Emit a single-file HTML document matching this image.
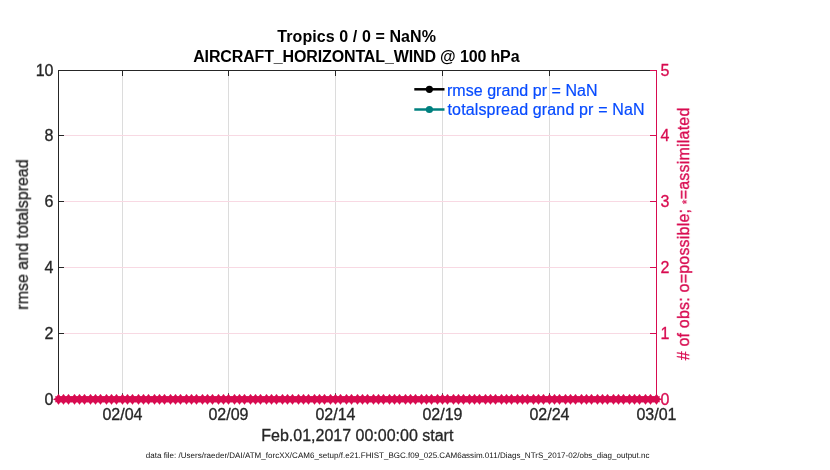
<!DOCTYPE html>
<html><head><meta charset="utf-8"><style>
html,body{margin:0;padding:0;background:#fff;width:830px;height:470px;overflow:hidden}
svg{display:block;font-family:"Liberation Sans",sans-serif}
text{will-change:transform}
</style></head><body>
<svg width="830" height="470" viewBox="0 0 830 470">
<rect width="830" height="470" fill="#fff"/>
<g stroke-width="1">
<line x1="122.5" y1="70" x2="122.5" y2="399" stroke="#dcdcdc"/><line x1="228.5" y1="70" x2="228.5" y2="399" stroke="#dcdcdc"/><line x1="335.5" y1="70" x2="335.5" y2="399" stroke="#dcdcdc"/><line x1="442.5" y1="70" x2="442.5" y2="399" stroke="#dcdcdc"/><line x1="549.5" y1="70" x2="549.5" y2="399" stroke="#dcdcdc"/>
<line x1="58" y1="135.5" x2="656" y2="135.5" stroke="#f8d9e3"/><line x1="58" y1="201.5" x2="656" y2="201.5" stroke="#f8d9e3"/><line x1="58" y1="267.5" x2="656" y2="267.5" stroke="#f8d9e3"/><line x1="58" y1="333.5" x2="656" y2="333.5" stroke="#f8d9e3"/>
</g>
<g font-weight="bold" font-size="16" fill="#000" text-anchor="middle">
<text x="356.6" y="42.4" textLength="158.8">Tropics 0 / 0 = NaN%</text>
<text x="356.35" y="61.8" textLength="326.4">AIRCRAFT_HORIZONTAL_WIND @ 100 hPa</text>
</g>
<g font-size="16" fill="#262626" stroke="#262626" stroke-width="0.3">
<text x="53.5" y="76.2" text-anchor="end">10</text><text x="53.5" y="141.2" text-anchor="end">8</text><text x="53.5" y="207.2" text-anchor="end">6</text><text x="53.5" y="273.2" text-anchor="end">4</text><text x="53.5" y="339.2" text-anchor="end">2</text><text x="53.5" y="405.2" text-anchor="end">0</text>
<text x="122.5" y="419.9" text-anchor="middle">02/04</text><text x="228.5" y="419.9" text-anchor="middle">02/09</text><text x="335.5" y="419.9" text-anchor="middle">02/14</text><text x="442.5" y="419.9" text-anchor="middle">02/19</text><text x="549.5" y="419.9" text-anchor="middle">02/24</text><text x="656.5" y="419.9" text-anchor="middle">03/01</text>
<text x="357.3" y="440.75" text-anchor="middle">Feb.01,2017 00:00:00 start</text>
<text transform="translate(27.9 234.5) rotate(-90)" text-anchor="middle">rmse and totalspread</text>
</g>
<g font-size="16" fill="#D80B50" stroke="#D80B50" stroke-width="0.3">
<text x="660.5" y="76.2">5</text><text x="660.5" y="141.2">4</text><text x="660.5" y="207.2">3</text><text x="660.5" y="273.2">2</text><text x="660.5" y="339.2">1</text><text x="660.5" y="405.2">0</text>
<text transform="translate(689.1 234) rotate(-90)" text-anchor="middle" textLength="252.7">#&#160;of obs: o=possible; <tspan font-size="12" dy="2.4" stroke-width="0.2">*</tspan><tspan dy="-2.4">=assimilated</tspan></text>
</g>
<g stroke-width="1">
<path d="M58.5 399 V70.5 H656.5" fill="none" stroke="#262626"/>
<line x1="122.5" y1="70" x2="122.5" y2="76" stroke="#262626"/><line x1="228.5" y1="70" x2="228.5" y2="76" stroke="#262626"/><line x1="335.5" y1="70" x2="335.5" y2="76" stroke="#262626"/><line x1="442.5" y1="70" x2="442.5" y2="76" stroke="#262626"/><line x1="549.5" y1="70" x2="549.5" y2="76" stroke="#262626"/>
<line x1="122.5" y1="399" x2="122.5" y2="393.3" stroke="#262626"/><line x1="228.5" y1="399" x2="228.5" y2="393.3" stroke="#262626"/><line x1="335.5" y1="399" x2="335.5" y2="393.3" stroke="#262626"/><line x1="442.5" y1="399" x2="442.5" y2="393.3" stroke="#262626"/><line x1="549.5" y1="399" x2="549.5" y2="393.3" stroke="#262626"/>
<line x1="58" y1="70.5" x2="64" y2="70.5" stroke="#262626"/><line x1="58" y1="135.5" x2="64" y2="135.5" stroke="#262626"/><line x1="58" y1="201.5" x2="64" y2="201.5" stroke="#262626"/><line x1="58" y1="267.5" x2="64" y2="267.5" stroke="#262626"/><line x1="58" y1="333.5" x2="64" y2="333.5" stroke="#262626"/><line x1="58" y1="399.5" x2="64" y2="399.5" stroke="#262626"/>
<line x1="656.5" y1="70" x2="656.5" y2="400" stroke="#D80B50"/>
<line x1="650" y1="70.5" x2="657" y2="70.5" stroke="#D80B50"/><line x1="650" y1="135.5" x2="657" y2="135.5" stroke="#D80B50"/><line x1="650" y1="201.5" x2="657" y2="201.5" stroke="#D80B50"/><line x1="650" y1="267.5" x2="657" y2="267.5" stroke="#D80B50"/><line x1="650" y1="333.5" x2="657" y2="333.5" stroke="#D80B50"/><line x1="650" y1="399.5" x2="657" y2="399.5" stroke="#D80B50"/>
</g>
<line x1="414.3" y1="89.3" x2="444.5" y2="89.3" stroke="#000" stroke-width="2.5"/>
<circle cx="429.4" cy="89.3" r="3.6" fill="#000"/>
<line x1="414.3" y1="109.5" x2="444.5" y2="109.5" stroke="#00807F" stroke-width="2.5"/>
<circle cx="429.4" cy="109.5" r="3.6" fill="#00807F"/>
<g font-size="16" fill="#074BFF" stroke="#074BFF" stroke-width="0.2">
<text x="447" y="95.5" textLength="150.5">rmse grand pr = NaN</text>
<text x="447.5" y="114.6" textLength="197.0">totalspread grand pr = NaN</text>
</g>
<rect x="58.5" y="396.3" width="598" height="6.0" fill="#D80B50"/>
<g fill="#D80B50"><path d="M58.85 394.15L60.20 396.30L61.85 396.30L61.50 398L63.60 398.95L63.60 399.65L61.50 400.60L61.85 402.30L60.20 402.30L58.85 404.45L58.15 404.45L56.80 402.30L55.15 402.30L55.50 400.60L53.40 399.65L53.40 398.95L55.50 398L55.15 396.30L56.80 396.30L58.15 394.15ZM63.85 394.15L65.20 396.30L66.85 396.30L66.50 398L68.60 398.95L68.60 399.65L66.50 400.60L66.85 402.30L65.20 402.30L63.85 404.45L63.15 404.45L61.80 402.30L60.15 402.30L60.50 400.60L58.40 399.65L58.40 398.95L60.50 398L60.15 396.30L61.80 396.30L63.15 394.15ZM68.85 394.15L70.20 396.30L71.85 396.30L71.50 398L73.60 398.95L73.60 399.65L71.50 400.60L71.85 402.30L70.20 402.30L68.85 404.45L68.15 404.45L66.80 402.30L65.15 402.30L65.50 400.60L63.40 399.65L63.40 398.95L65.50 398L65.15 396.30L66.80 396.30L68.15 394.15ZM74.85 394.15L76.20 396.30L77.85 396.30L77.50 398L79.60 398.95L79.60 399.65L77.50 400.60L77.85 402.30L76.20 402.30L74.85 404.45L74.15 404.45L72.80 402.30L71.15 402.30L71.50 400.60L69.40 399.65L69.40 398.95L71.50 398L71.15 396.30L72.80 396.30L74.15 394.15ZM79.85 394.15L81.20 396.30L82.85 396.30L82.50 398L84.60 398.95L84.60 399.65L82.50 400.60L82.85 402.30L81.20 402.30L79.85 404.45L79.15 404.45L77.80 402.30L76.15 402.30L76.50 400.60L74.40 399.65L74.40 398.95L76.50 398L76.15 396.30L77.80 396.30L79.15 394.15ZM84.85 394.15L86.20 396.30L87.85 396.30L87.50 398L89.60 398.95L89.60 399.65L87.50 400.60L87.85 402.30L86.20 402.30L84.85 404.45L84.15 404.45L82.80 402.30L81.15 402.30L81.50 400.60L79.40 399.65L79.40 398.95L81.50 398L81.15 396.30L82.80 396.30L84.15 394.15ZM90.85 394.15L92.20 396.30L93.85 396.30L93.50 398L95.60 398.95L95.60 399.65L93.50 400.60L93.85 402.30L92.20 402.30L90.85 404.45L90.15 404.45L88.80 402.30L87.15 402.30L87.50 400.60L85.40 399.65L85.40 398.95L87.50 398L87.15 396.30L88.80 396.30L90.15 394.15ZM95.85 394.15L97.20 396.30L98.85 396.30L98.50 398L100.60 398.95L100.60 399.65L98.50 400.60L98.85 402.30L97.20 402.30L95.85 404.45L95.15 404.45L93.80 402.30L92.15 402.30L92.50 400.60L90.40 399.65L90.40 398.95L92.50 398L92.15 396.30L93.80 396.30L95.15 394.15ZM100.85 394.15L102.20 396.30L103.85 396.30L103.50 398L105.60 398.95L105.60 399.65L103.50 400.60L103.85 402.30L102.20 402.30L100.85 404.45L100.15 404.45L98.80 402.30L97.15 402.30L97.50 400.60L95.40 399.65L95.40 398.95L97.50 398L97.15 396.30L98.80 396.30L100.15 394.15ZM106.85 394.15L108.20 396.30L109.85 396.30L109.50 398L111.60 398.95L111.60 399.65L109.50 400.60L109.85 402.30L108.20 402.30L106.85 404.45L106.15 404.45L104.80 402.30L103.15 402.30L103.50 400.60L101.40 399.65L101.40 398.95L103.50 398L103.15 396.30L104.80 396.30L106.15 394.15ZM111.85 394.15L113.20 396.30L114.85 396.30L114.50 398L116.60 398.95L116.60 399.65L114.50 400.60L114.85 402.30L113.20 402.30L111.85 404.45L111.15 404.45L109.80 402.30L108.15 402.30L108.50 400.60L106.40 399.65L106.40 398.95L108.50 398L108.15 396.30L109.80 396.30L111.15 394.15ZM116.85 394.15L118.20 396.30L119.85 396.30L119.50 398L121.60 398.95L121.60 399.65L119.50 400.60L119.85 402.30L118.20 402.30L116.85 404.45L116.15 404.45L114.80 402.30L113.15 402.30L113.50 400.60L111.40 399.65L111.40 398.95L113.50 398L113.15 396.30L114.80 396.30L116.15 394.15ZM122.85 394.15L124.20 396.30L125.85 396.30L125.50 398L127.60 398.95L127.60 399.65L125.50 400.60L125.85 402.30L124.20 402.30L122.85 404.45L122.15 404.45L120.80 402.30L119.15 402.30L119.50 400.60L117.40 399.65L117.40 398.95L119.50 398L119.15 396.30L120.80 396.30L122.15 394.15ZM127.85 394.15L129.20 396.30L130.85 396.30L130.50 398L132.60 398.95L132.60 399.65L130.50 400.60L130.85 402.30L129.20 402.30L127.85 404.45L127.15 404.45L125.80 402.30L124.15 402.30L124.50 400.60L122.40 399.65L122.40 398.95L124.50 398L124.15 396.30L125.80 396.30L127.15 394.15ZM132.85 394.15L134.20 396.30L135.85 396.30L135.50 398L137.60 398.95L137.60 399.65L135.50 400.60L135.85 402.30L134.20 402.30L132.85 404.45L132.15 404.45L130.80 402.30L129.15 402.30L129.50 400.60L127.40 399.65L127.40 398.95L129.50 398L129.15 396.30L130.80 396.30L132.15 394.15ZM138.85 394.15L140.20 396.30L141.85 396.30L141.50 398L143.60 398.95L143.60 399.65L141.50 400.60L141.85 402.30L140.20 402.30L138.85 404.45L138.15 404.45L136.80 402.30L135.15 402.30L135.50 400.60L133.40 399.65L133.40 398.95L135.50 398L135.15 396.30L136.80 396.30L138.15 394.15ZM143.85 394.15L145.20 396.30L146.85 396.30L146.50 398L148.60 398.95L148.60 399.65L146.50 400.60L146.85 402.30L145.20 402.30L143.85 404.45L143.15 404.45L141.80 402.30L140.15 402.30L140.50 400.60L138.40 399.65L138.40 398.95L140.50 398L140.15 396.30L141.80 396.30L143.15 394.15ZM148.85 394.15L150.20 396.30L151.85 396.30L151.50 398L153.60 398.95L153.60 399.65L151.50 400.60L151.85 402.30L150.20 402.30L148.85 404.45L148.15 404.45L146.80 402.30L145.15 402.30L145.50 400.60L143.40 399.65L143.40 398.95L145.50 398L145.15 396.30L146.80 396.30L148.15 394.15ZM154.85 394.15L156.20 396.30L157.85 396.30L157.50 398L159.60 398.95L159.60 399.65L157.50 400.60L157.85 402.30L156.20 402.30L154.85 404.45L154.15 404.45L152.80 402.30L151.15 402.30L151.50 400.60L149.40 399.65L149.40 398.95L151.50 398L151.15 396.30L152.80 396.30L154.15 394.15ZM159.85 394.15L161.20 396.30L162.85 396.30L162.50 398L164.60 398.95L164.60 399.65L162.50 400.60L162.85 402.30L161.20 402.30L159.85 404.45L159.15 404.45L157.80 402.30L156.15 402.30L156.50 400.60L154.40 399.65L154.40 398.95L156.50 398L156.15 396.30L157.80 396.30L159.15 394.15ZM164.85 394.15L166.20 396.30L167.85 396.30L167.50 398L169.60 398.95L169.60 399.65L167.50 400.60L167.85 402.30L166.20 402.30L164.85 404.45L164.15 404.45L162.80 402.30L161.15 402.30L161.50 400.60L159.40 399.65L159.40 398.95L161.50 398L161.15 396.30L162.80 396.30L164.15 394.15ZM170.85 394.15L172.20 396.30L173.85 396.30L173.50 398L175.60 398.95L175.60 399.65L173.50 400.60L173.85 402.30L172.20 402.30L170.85 404.45L170.15 404.45L168.80 402.30L167.15 402.30L167.50 400.60L165.40 399.65L165.40 398.95L167.50 398L167.15 396.30L168.80 396.30L170.15 394.15ZM175.85 394.15L177.20 396.30L178.85 396.30L178.50 398L180.60 398.95L180.60 399.65L178.50 400.60L178.85 402.30L177.20 402.30L175.85 404.45L175.15 404.45L173.80 402.30L172.15 402.30L172.50 400.60L170.40 399.65L170.40 398.95L172.50 398L172.15 396.30L173.80 396.30L175.15 394.15ZM180.85 394.15L182.20 396.30L183.85 396.30L183.50 398L185.60 398.95L185.60 399.65L183.50 400.60L183.85 402.30L182.20 402.30L180.85 404.45L180.15 404.45L178.80 402.30L177.15 402.30L177.50 400.60L175.40 399.65L175.40 398.95L177.50 398L177.15 396.30L178.80 396.30L180.15 394.15ZM186.85 394.15L188.20 396.30L189.85 396.30L189.50 398L191.60 398.95L191.60 399.65L189.50 400.60L189.85 402.30L188.20 402.30L186.85 404.45L186.15 404.45L184.80 402.30L183.15 402.30L183.50 400.60L181.40 399.65L181.40 398.95L183.50 398L183.15 396.30L184.80 396.30L186.15 394.15ZM191.85 394.15L193.20 396.30L194.85 396.30L194.50 398L196.60 398.95L196.60 399.65L194.50 400.60L194.85 402.30L193.20 402.30L191.85 404.45L191.15 404.45L189.80 402.30L188.15 402.30L188.50 400.60L186.40 399.65L186.40 398.95L188.50 398L188.15 396.30L189.80 396.30L191.15 394.15ZM196.85 394.15L198.20 396.30L199.85 396.30L199.50 398L201.60 398.95L201.60 399.65L199.50 400.60L199.85 402.30L198.20 402.30L196.85 404.45L196.15 404.45L194.80 402.30L193.15 402.30L193.50 400.60L191.40 399.65L191.40 398.95L193.50 398L193.15 396.30L194.80 396.30L196.15 394.15ZM202.85 394.15L204.20 396.30L205.85 396.30L205.50 398L207.60 398.95L207.60 399.65L205.50 400.60L205.85 402.30L204.20 402.30L202.85 404.45L202.15 404.45L200.80 402.30L199.15 402.30L199.50 400.60L197.40 399.65L197.40 398.95L199.50 398L199.15 396.30L200.80 396.30L202.15 394.15ZM207.85 394.15L209.20 396.30L210.85 396.30L210.50 398L212.60 398.95L212.60 399.65L210.50 400.60L210.85 402.30L209.20 402.30L207.85 404.45L207.15 404.45L205.80 402.30L204.15 402.30L204.50 400.60L202.40 399.65L202.40 398.95L204.50 398L204.15 396.30L205.80 396.30L207.15 394.15ZM212.85 394.15L214.20 396.30L215.85 396.30L215.50 398L217.60 398.95L217.60 399.65L215.50 400.60L215.85 402.30L214.20 402.30L212.85 404.45L212.15 404.45L210.80 402.30L209.15 402.30L209.50 400.60L207.40 399.65L207.40 398.95L209.50 398L209.15 396.30L210.80 396.30L212.15 394.15ZM218.85 394.15L220.20 396.30L221.85 396.30L221.50 398L223.60 398.95L223.60 399.65L221.50 400.60L221.85 402.30L220.20 402.30L218.85 404.45L218.15 404.45L216.80 402.30L215.15 402.30L215.50 400.60L213.40 399.65L213.40 398.95L215.50 398L215.15 396.30L216.80 396.30L218.15 394.15ZM223.85 394.15L225.20 396.30L226.85 396.30L226.50 398L228.60 398.95L228.60 399.65L226.50 400.60L226.85 402.30L225.20 402.30L223.85 404.45L223.15 404.45L221.80 402.30L220.15 402.30L220.50 400.60L218.40 399.65L218.40 398.95L220.50 398L220.15 396.30L221.80 396.30L223.15 394.15ZM228.85 394.15L230.20 396.30L231.85 396.30L231.50 398L233.60 398.95L233.60 399.65L231.50 400.60L231.85 402.30L230.20 402.30L228.85 404.45L228.15 404.45L226.80 402.30L225.15 402.30L225.50 400.60L223.40 399.65L223.40 398.95L225.50 398L225.15 396.30L226.80 396.30L228.15 394.15ZM234.85 394.15L236.20 396.30L237.85 396.30L237.50 398L239.60 398.95L239.60 399.65L237.50 400.60L237.85 402.30L236.20 402.30L234.85 404.45L234.15 404.45L232.80 402.30L231.15 402.30L231.50 400.60L229.40 399.65L229.40 398.95L231.50 398L231.15 396.30L232.80 396.30L234.15 394.15ZM239.85 394.15L241.20 396.30L242.85 396.30L242.50 398L244.60 398.95L244.60 399.65L242.50 400.60L242.85 402.30L241.20 402.30L239.85 404.45L239.15 404.45L237.80 402.30L236.15 402.30L236.50 400.60L234.40 399.65L234.40 398.95L236.50 398L236.15 396.30L237.80 396.30L239.15 394.15ZM244.85 394.15L246.20 396.30L247.85 396.30L247.50 398L249.60 398.95L249.60 399.65L247.50 400.60L247.85 402.30L246.20 402.30L244.85 404.45L244.15 404.45L242.80 402.30L241.15 402.30L241.50 400.60L239.40 399.65L239.40 398.95L241.50 398L241.15 396.30L242.80 396.30L244.15 394.15ZM250.85 394.15L252.20 396.30L253.85 396.30L253.50 398L255.60 398.95L255.60 399.65L253.50 400.60L253.85 402.30L252.20 402.30L250.85 404.45L250.15 404.45L248.80 402.30L247.15 402.30L247.50 400.60L245.40 399.65L245.40 398.95L247.50 398L247.15 396.30L248.80 396.30L250.15 394.15ZM255.85 394.15L257.20 396.30L258.85 396.30L258.50 398L260.60 398.95L260.60 399.65L258.50 400.60L258.85 402.30L257.20 402.30L255.85 404.45L255.15 404.45L253.80 402.30L252.15 402.30L252.50 400.60L250.40 399.65L250.40 398.95L252.50 398L252.15 396.30L253.80 396.30L255.15 394.15ZM260.85 394.15L262.20 396.30L263.85 396.30L263.50 398L265.60 398.95L265.60 399.65L263.50 400.60L263.85 402.30L262.20 402.30L260.85 404.45L260.15 404.45L258.80 402.30L257.15 402.30L257.50 400.60L255.40 399.65L255.40 398.95L257.50 398L257.15 396.30L258.80 396.30L260.15 394.15ZM266.85 394.15L268.20 396.30L269.85 396.30L269.50 398L271.60 398.95L271.60 399.65L269.50 400.60L269.85 402.30L268.20 402.30L266.85 404.45L266.15 404.45L264.80 402.30L263.15 402.30L263.50 400.60L261.40 399.65L261.40 398.95L263.50 398L263.15 396.30L264.80 396.30L266.15 394.15ZM271.85 394.15L273.20 396.30L274.85 396.30L274.50 398L276.60 398.95L276.60 399.65L274.50 400.60L274.85 402.30L273.20 402.30L271.85 404.45L271.15 404.45L269.80 402.30L268.15 402.30L268.50 400.60L266.40 399.65L266.40 398.95L268.50 398L268.15 396.30L269.80 396.30L271.15 394.15ZM276.85 394.15L278.20 396.30L279.85 396.30L279.50 398L281.60 398.95L281.60 399.65L279.50 400.60L279.85 402.30L278.20 402.30L276.85 404.45L276.15 404.45L274.80 402.30L273.15 402.30L273.50 400.60L271.40 399.65L271.40 398.95L273.50 398L273.15 396.30L274.80 396.30L276.15 394.15ZM282.85 394.15L284.20 396.30L285.85 396.30L285.50 398L287.60 398.95L287.60 399.65L285.50 400.60L285.85 402.30L284.20 402.30L282.85 404.45L282.15 404.45L280.80 402.30L279.15 402.30L279.50 400.60L277.40 399.65L277.40 398.95L279.50 398L279.15 396.30L280.80 396.30L282.15 394.15ZM287.85 394.15L289.20 396.30L290.85 396.30L290.50 398L292.60 398.95L292.60 399.65L290.50 400.60L290.85 402.30L289.20 402.30L287.85 404.45L287.15 404.45L285.80 402.30L284.15 402.30L284.50 400.60L282.40 399.65L282.40 398.95L284.50 398L284.15 396.30L285.80 396.30L287.15 394.15ZM292.85 394.15L294.20 396.30L295.85 396.30L295.50 398L297.60 398.95L297.60 399.65L295.50 400.60L295.85 402.30L294.20 402.30L292.85 404.45L292.15 404.45L290.80 402.30L289.15 402.30L289.50 400.60L287.40 399.65L287.40 398.95L289.50 398L289.15 396.30L290.80 396.30L292.15 394.15ZM298.85 394.15L300.20 396.30L301.85 396.30L301.50 398L303.60 398.95L303.60 399.65L301.50 400.60L301.85 402.30L300.20 402.30L298.85 404.45L298.15 404.45L296.80 402.30L295.15 402.30L295.50 400.60L293.40 399.65L293.40 398.95L295.50 398L295.15 396.30L296.80 396.30L298.15 394.15ZM303.85 394.15L305.20 396.30L306.85 396.30L306.50 398L308.60 398.95L308.60 399.65L306.50 400.60L306.85 402.30L305.20 402.30L303.85 404.45L303.15 404.45L301.80 402.30L300.15 402.30L300.50 400.60L298.40 399.65L298.40 398.95L300.50 398L300.15 396.30L301.80 396.30L303.15 394.15ZM308.85 394.15L310.20 396.30L311.85 396.30L311.50 398L313.60 398.95L313.60 399.65L311.50 400.60L311.85 402.30L310.20 402.30L308.85 404.45L308.15 404.45L306.80 402.30L305.15 402.30L305.50 400.60L303.40 399.65L303.40 398.95L305.50 398L305.15 396.30L306.80 396.30L308.15 394.15ZM314.85 394.15L316.20 396.30L317.85 396.30L317.50 398L319.60 398.95L319.60 399.65L317.50 400.60L317.85 402.30L316.20 402.30L314.85 404.45L314.15 404.45L312.80 402.30L311.15 402.30L311.50 400.60L309.40 399.65L309.40 398.95L311.50 398L311.15 396.30L312.80 396.30L314.15 394.15ZM319.85 394.15L321.20 396.30L322.85 396.30L322.50 398L324.60 398.95L324.60 399.65L322.50 400.60L322.85 402.30L321.20 402.30L319.85 404.45L319.15 404.45L317.80 402.30L316.15 402.30L316.50 400.60L314.40 399.65L314.40 398.95L316.50 398L316.15 396.30L317.80 396.30L319.15 394.15ZM324.85 394.15L326.20 396.30L327.85 396.30L327.50 398L329.60 398.95L329.60 399.65L327.50 400.60L327.85 402.30L326.20 402.30L324.85 404.45L324.15 404.45L322.80 402.30L321.15 402.30L321.50 400.60L319.40 399.65L319.40 398.95L321.50 398L321.15 396.30L322.80 396.30L324.15 394.15ZM330.85 394.15L332.20 396.30L333.85 396.30L333.50 398L335.60 398.95L335.60 399.65L333.50 400.60L333.85 402.30L332.20 402.30L330.85 404.45L330.15 404.45L328.80 402.30L327.15 402.30L327.50 400.60L325.40 399.65L325.40 398.95L327.50 398L327.15 396.30L328.80 396.30L330.15 394.15ZM335.85 394.15L337.20 396.30L338.85 396.30L338.50 398L340.60 398.95L340.60 399.65L338.50 400.60L338.85 402.30L337.20 402.30L335.85 404.45L335.15 404.45L333.80 402.30L332.15 402.30L332.50 400.60L330.40 399.65L330.40 398.95L332.50 398L332.15 396.30L333.80 396.30L335.15 394.15ZM340.85 394.15L342.20 396.30L343.85 396.30L343.50 398L345.60 398.95L345.60 399.65L343.50 400.60L343.85 402.30L342.20 402.30L340.85 404.45L340.15 404.45L338.80 402.30L337.15 402.30L337.50 400.60L335.40 399.65L335.40 398.95L337.50 398L337.15 396.30L338.80 396.30L340.15 394.15ZM346.85 394.15L348.20 396.30L349.85 396.30L349.50 398L351.60 398.95L351.60 399.65L349.50 400.60L349.85 402.30L348.20 402.30L346.85 404.45L346.15 404.45L344.80 402.30L343.15 402.30L343.50 400.60L341.40 399.65L341.40 398.95L343.50 398L343.15 396.30L344.80 396.30L346.15 394.15ZM351.85 394.15L353.20 396.30L354.85 396.30L354.50 398L356.60 398.95L356.60 399.65L354.50 400.60L354.85 402.30L353.20 402.30L351.85 404.45L351.15 404.45L349.80 402.30L348.15 402.30L348.50 400.60L346.40 399.65L346.40 398.95L348.50 398L348.15 396.30L349.80 396.30L351.15 394.15ZM357.85 394.15L359.20 396.30L360.85 396.30L360.50 398L362.60 398.95L362.60 399.65L360.50 400.60L360.85 402.30L359.20 402.30L357.85 404.45L357.15 404.45L355.80 402.30L354.15 402.30L354.50 400.60L352.40 399.65L352.40 398.95L354.50 398L354.15 396.30L355.80 396.30L357.15 394.15ZM362.85 394.15L364.20 396.30L365.85 396.30L365.50 398L367.60 398.95L367.60 399.65L365.50 400.60L365.85 402.30L364.20 402.30L362.85 404.45L362.15 404.45L360.80 402.30L359.15 402.30L359.50 400.60L357.40 399.65L357.40 398.95L359.50 398L359.15 396.30L360.80 396.30L362.15 394.15ZM367.85 394.15L369.20 396.30L370.85 396.30L370.50 398L372.60 398.95L372.60 399.65L370.50 400.60L370.85 402.30L369.20 402.30L367.85 404.45L367.15 404.45L365.80 402.30L364.15 402.30L364.50 400.60L362.40 399.65L362.40 398.95L364.50 398L364.15 396.30L365.80 396.30L367.15 394.15ZM373.85 394.15L375.20 396.30L376.85 396.30L376.50 398L378.60 398.95L378.60 399.65L376.50 400.60L376.85 402.30L375.20 402.30L373.85 404.45L373.15 404.45L371.80 402.30L370.15 402.30L370.50 400.60L368.40 399.65L368.40 398.95L370.50 398L370.15 396.30L371.80 396.30L373.15 394.15ZM378.85 394.15L380.20 396.30L381.85 396.30L381.50 398L383.60 398.95L383.60 399.65L381.50 400.60L381.85 402.30L380.20 402.30L378.85 404.45L378.15 404.45L376.80 402.30L375.15 402.30L375.50 400.60L373.40 399.65L373.40 398.95L375.50 398L375.15 396.30L376.80 396.30L378.15 394.15ZM383.85 394.15L385.20 396.30L386.85 396.30L386.50 398L388.60 398.95L388.60 399.65L386.50 400.60L386.85 402.30L385.20 402.30L383.85 404.45L383.15 404.45L381.80 402.30L380.15 402.30L380.50 400.60L378.40 399.65L378.40 398.95L380.50 398L380.15 396.30L381.80 396.30L383.15 394.15ZM389.85 394.15L391.20 396.30L392.85 396.30L392.50 398L394.60 398.95L394.60 399.65L392.50 400.60L392.85 402.30L391.20 402.30L389.85 404.45L389.15 404.45L387.80 402.30L386.15 402.30L386.50 400.60L384.40 399.65L384.40 398.95L386.50 398L386.15 396.30L387.80 396.30L389.15 394.15ZM394.85 394.15L396.20 396.30L397.85 396.30L397.50 398L399.60 398.95L399.60 399.65L397.50 400.60L397.85 402.30L396.20 402.30L394.85 404.45L394.15 404.45L392.80 402.30L391.15 402.30L391.50 400.60L389.40 399.65L389.40 398.95L391.50 398L391.15 396.30L392.80 396.30L394.15 394.15ZM399.85 394.15L401.20 396.30L402.85 396.30L402.50 398L404.60 398.95L404.60 399.65L402.50 400.60L402.85 402.30L401.20 402.30L399.85 404.45L399.15 404.45L397.80 402.30L396.15 402.30L396.50 400.60L394.40 399.65L394.40 398.95L396.50 398L396.15 396.30L397.80 396.30L399.15 394.15ZM405.85 394.15L407.20 396.30L408.85 396.30L408.50 398L410.60 398.95L410.60 399.65L408.50 400.60L408.85 402.30L407.20 402.30L405.85 404.45L405.15 404.45L403.80 402.30L402.15 402.30L402.50 400.60L400.40 399.65L400.40 398.95L402.50 398L402.15 396.30L403.80 396.30L405.15 394.15ZM410.85 394.15L412.20 396.30L413.85 396.30L413.50 398L415.60 398.95L415.60 399.65L413.50 400.60L413.85 402.30L412.20 402.30L410.85 404.45L410.15 404.45L408.80 402.30L407.15 402.30L407.50 400.60L405.40 399.65L405.40 398.95L407.50 398L407.15 396.30L408.80 396.30L410.15 394.15ZM415.85 394.15L417.20 396.30L418.85 396.30L418.50 398L420.60 398.95L420.60 399.65L418.50 400.60L418.85 402.30L417.20 402.30L415.85 404.45L415.15 404.45L413.80 402.30L412.15 402.30L412.50 400.60L410.40 399.65L410.40 398.95L412.50 398L412.15 396.30L413.80 396.30L415.15 394.15ZM421.85 394.15L423.20 396.30L424.85 396.30L424.50 398L426.60 398.95L426.60 399.65L424.50 400.60L424.85 402.30L423.20 402.30L421.85 404.45L421.15 404.45L419.80 402.30L418.15 402.30L418.50 400.60L416.40 399.65L416.40 398.95L418.50 398L418.15 396.30L419.80 396.30L421.15 394.15ZM426.85 394.15L428.20 396.30L429.85 396.30L429.50 398L431.60 398.95L431.60 399.65L429.50 400.60L429.85 402.30L428.20 402.30L426.85 404.45L426.15 404.45L424.80 402.30L423.15 402.30L423.50 400.60L421.40 399.65L421.40 398.95L423.50 398L423.15 396.30L424.80 396.30L426.15 394.15ZM431.85 394.15L433.20 396.30L434.85 396.30L434.50 398L436.60 398.95L436.60 399.65L434.50 400.60L434.85 402.30L433.20 402.30L431.85 404.45L431.15 404.45L429.80 402.30L428.15 402.30L428.50 400.60L426.40 399.65L426.40 398.95L428.50 398L428.15 396.30L429.80 396.30L431.15 394.15ZM437.85 394.15L439.20 396.30L440.85 396.30L440.50 398L442.60 398.95L442.60 399.65L440.50 400.60L440.85 402.30L439.20 402.30L437.85 404.45L437.15 404.45L435.80 402.30L434.15 402.30L434.50 400.60L432.40 399.65L432.40 398.95L434.50 398L434.15 396.30L435.80 396.30L437.15 394.15ZM442.85 394.15L444.20 396.30L445.85 396.30L445.50 398L447.60 398.95L447.60 399.65L445.50 400.60L445.85 402.30L444.20 402.30L442.85 404.45L442.15 404.45L440.80 402.30L439.15 402.30L439.50 400.60L437.40 399.65L437.40 398.95L439.50 398L439.15 396.30L440.80 396.30L442.15 394.15ZM447.85 394.15L449.20 396.30L450.85 396.30L450.50 398L452.60 398.95L452.60 399.65L450.50 400.60L450.85 402.30L449.20 402.30L447.85 404.45L447.15 404.45L445.80 402.30L444.15 402.30L444.50 400.60L442.40 399.65L442.40 398.95L444.50 398L444.15 396.30L445.80 396.30L447.15 394.15ZM453.85 394.15L455.20 396.30L456.85 396.30L456.50 398L458.60 398.95L458.60 399.65L456.50 400.60L456.85 402.30L455.20 402.30L453.85 404.45L453.15 404.45L451.80 402.30L450.15 402.30L450.50 400.60L448.40 399.65L448.40 398.95L450.50 398L450.15 396.30L451.80 396.30L453.15 394.15ZM458.85 394.15L460.20 396.30L461.85 396.30L461.50 398L463.60 398.95L463.60 399.65L461.50 400.60L461.85 402.30L460.20 402.30L458.85 404.45L458.15 404.45L456.80 402.30L455.15 402.30L455.50 400.60L453.40 399.65L453.40 398.95L455.50 398L455.15 396.30L456.80 396.30L458.15 394.15ZM463.85 394.15L465.20 396.30L466.85 396.30L466.50 398L468.60 398.95L468.60 399.65L466.50 400.60L466.85 402.30L465.20 402.30L463.85 404.45L463.15 404.45L461.80 402.30L460.15 402.30L460.50 400.60L458.40 399.65L458.40 398.95L460.50 398L460.15 396.30L461.80 396.30L463.15 394.15ZM469.85 394.15L471.20 396.30L472.85 396.30L472.50 398L474.60 398.95L474.60 399.65L472.50 400.60L472.85 402.30L471.20 402.30L469.85 404.45L469.15 404.45L467.80 402.30L466.15 402.30L466.50 400.60L464.40 399.65L464.40 398.95L466.50 398L466.15 396.30L467.80 396.30L469.15 394.15ZM474.85 394.15L476.20 396.30L477.85 396.30L477.50 398L479.60 398.95L479.60 399.65L477.50 400.60L477.85 402.30L476.20 402.30L474.85 404.45L474.15 404.45L472.80 402.30L471.15 402.30L471.50 400.60L469.40 399.65L469.40 398.95L471.50 398L471.15 396.30L472.80 396.30L474.15 394.15ZM479.85 394.15L481.20 396.30L482.85 396.30L482.50 398L484.60 398.95L484.60 399.65L482.50 400.60L482.85 402.30L481.20 402.30L479.85 404.45L479.15 404.45L477.80 402.30L476.15 402.30L476.50 400.60L474.40 399.65L474.40 398.95L476.50 398L476.15 396.30L477.80 396.30L479.15 394.15ZM485.85 394.15L487.20 396.30L488.85 396.30L488.50 398L490.60 398.95L490.60 399.65L488.50 400.60L488.85 402.30L487.20 402.30L485.85 404.45L485.15 404.45L483.80 402.30L482.15 402.30L482.50 400.60L480.40 399.65L480.40 398.95L482.50 398L482.15 396.30L483.80 396.30L485.15 394.15ZM490.85 394.15L492.20 396.30L493.85 396.30L493.50 398L495.60 398.95L495.60 399.65L493.50 400.60L493.85 402.30L492.20 402.30L490.85 404.45L490.15 404.45L488.80 402.30L487.15 402.30L487.50 400.60L485.40 399.65L485.40 398.95L487.50 398L487.15 396.30L488.80 396.30L490.15 394.15ZM495.85 394.15L497.20 396.30L498.85 396.30L498.50 398L500.60 398.95L500.60 399.65L498.50 400.60L498.85 402.30L497.20 402.30L495.85 404.45L495.15 404.45L493.80 402.30L492.15 402.30L492.50 400.60L490.40 399.65L490.40 398.95L492.50 398L492.15 396.30L493.80 396.30L495.15 394.15ZM501.85 394.15L503.20 396.30L504.85 396.30L504.50 398L506.60 398.95L506.60 399.65L504.50 400.60L504.85 402.30L503.20 402.30L501.85 404.45L501.15 404.45L499.80 402.30L498.15 402.30L498.50 400.60L496.40 399.65L496.40 398.95L498.50 398L498.15 396.30L499.80 396.30L501.15 394.15ZM506.85 394.15L508.20 396.30L509.85 396.30L509.50 398L511.60 398.95L511.60 399.65L509.50 400.60L509.85 402.30L508.20 402.30L506.85 404.45L506.15 404.45L504.80 402.30L503.15 402.30L503.50 400.60L501.40 399.65L501.40 398.95L503.50 398L503.15 396.30L504.80 396.30L506.15 394.15ZM511.85 394.15L513.20 396.30L514.85 396.30L514.50 398L516.60 398.95L516.60 399.65L514.50 400.60L514.85 402.30L513.20 402.30L511.85 404.45L511.15 404.45L509.80 402.30L508.15 402.30L508.50 400.60L506.40 399.65L506.40 398.95L508.50 398L508.15 396.30L509.80 396.30L511.15 394.15ZM517.85 394.15L519.20 396.30L520.85 396.30L520.50 398L522.60 398.95L522.60 399.65L520.50 400.60L520.85 402.30L519.20 402.30L517.85 404.45L517.15 404.45L515.80 402.30L514.15 402.30L514.50 400.60L512.40 399.65L512.40 398.95L514.50 398L514.15 396.30L515.80 396.30L517.15 394.15ZM522.85 394.15L524.20 396.30L525.85 396.30L525.50 398L527.60 398.95L527.60 399.65L525.50 400.60L525.85 402.30L524.20 402.30L522.85 404.45L522.15 404.45L520.80 402.30L519.15 402.30L519.50 400.60L517.40 399.65L517.40 398.95L519.50 398L519.15 396.30L520.80 396.30L522.15 394.15ZM527.85 394.15L529.20 396.30L530.85 396.30L530.50 398L532.60 398.95L532.60 399.65L530.50 400.60L530.85 402.30L529.20 402.30L527.85 404.45L527.15 404.45L525.80 402.30L524.15 402.30L524.50 400.60L522.40 399.65L522.40 398.95L524.50 398L524.15 396.30L525.80 396.30L527.15 394.15ZM533.85 394.15L535.20 396.30L536.85 396.30L536.50 398L538.60 398.95L538.60 399.65L536.50 400.60L536.85 402.30L535.20 402.30L533.85 404.45L533.15 404.45L531.80 402.30L530.15 402.30L530.50 400.60L528.40 399.65L528.40 398.95L530.50 398L530.15 396.30L531.80 396.30L533.15 394.15ZM538.85 394.15L540.20 396.30L541.85 396.30L541.50 398L543.60 398.95L543.60 399.65L541.50 400.60L541.85 402.30L540.20 402.30L538.85 404.45L538.15 404.45L536.80 402.30L535.15 402.30L535.50 400.60L533.40 399.65L533.40 398.95L535.50 398L535.15 396.30L536.80 396.30L538.15 394.15ZM543.85 394.15L545.20 396.30L546.85 396.30L546.50 398L548.60 398.95L548.60 399.65L546.50 400.60L546.85 402.30L545.20 402.30L543.85 404.45L543.15 404.45L541.80 402.30L540.15 402.30L540.50 400.60L538.40 399.65L538.40 398.95L540.50 398L540.15 396.30L541.80 396.30L543.15 394.15ZM549.85 394.15L551.20 396.30L552.85 396.30L552.50 398L554.60 398.95L554.60 399.65L552.50 400.60L552.85 402.30L551.20 402.30L549.85 404.45L549.15 404.45L547.80 402.30L546.15 402.30L546.50 400.60L544.40 399.65L544.40 398.95L546.50 398L546.15 396.30L547.80 396.30L549.15 394.15ZM554.85 394.15L556.20 396.30L557.85 396.30L557.50 398L559.60 398.95L559.60 399.65L557.50 400.60L557.85 402.30L556.20 402.30L554.85 404.45L554.15 404.45L552.80 402.30L551.15 402.30L551.50 400.60L549.40 399.65L549.40 398.95L551.50 398L551.15 396.30L552.80 396.30L554.15 394.15ZM559.85 394.15L561.20 396.30L562.85 396.30L562.50 398L564.60 398.95L564.60 399.65L562.50 400.60L562.85 402.30L561.20 402.30L559.85 404.45L559.15 404.45L557.80 402.30L556.15 402.30L556.50 400.60L554.40 399.65L554.40 398.95L556.50 398L556.15 396.30L557.80 396.30L559.15 394.15ZM565.85 394.15L567.20 396.30L568.85 396.30L568.50 398L570.60 398.95L570.60 399.65L568.50 400.60L568.85 402.30L567.20 402.30L565.85 404.45L565.15 404.45L563.80 402.30L562.15 402.30L562.50 400.60L560.40 399.65L560.40 398.95L562.50 398L562.15 396.30L563.80 396.30L565.15 394.15ZM570.85 394.15L572.20 396.30L573.85 396.30L573.50 398L575.60 398.95L575.60 399.65L573.50 400.60L573.85 402.30L572.20 402.30L570.85 404.45L570.15 404.45L568.80 402.30L567.15 402.30L567.50 400.60L565.40 399.65L565.40 398.95L567.50 398L567.15 396.30L568.80 396.30L570.15 394.15ZM575.85 394.15L577.20 396.30L578.85 396.30L578.50 398L580.60 398.95L580.60 399.65L578.50 400.60L578.85 402.30L577.20 402.30L575.85 404.45L575.15 404.45L573.80 402.30L572.15 402.30L572.50 400.60L570.40 399.65L570.40 398.95L572.50 398L572.15 396.30L573.80 396.30L575.15 394.15ZM581.85 394.15L583.20 396.30L584.85 396.30L584.50 398L586.60 398.95L586.60 399.65L584.50 400.60L584.85 402.30L583.20 402.30L581.85 404.45L581.15 404.45L579.80 402.30L578.15 402.30L578.50 400.60L576.40 399.65L576.40 398.95L578.50 398L578.15 396.30L579.80 396.30L581.15 394.15ZM586.85 394.15L588.20 396.30L589.85 396.30L589.50 398L591.60 398.95L591.60 399.65L589.50 400.60L589.85 402.30L588.20 402.30L586.85 404.45L586.15 404.45L584.80 402.30L583.15 402.30L583.50 400.60L581.40 399.65L581.40 398.95L583.50 398L583.15 396.30L584.80 396.30L586.15 394.15ZM591.85 394.15L593.20 396.30L594.85 396.30L594.50 398L596.60 398.95L596.60 399.65L594.50 400.60L594.85 402.30L593.20 402.30L591.85 404.45L591.15 404.45L589.80 402.30L588.15 402.30L588.50 400.60L586.40 399.65L586.40 398.95L588.50 398L588.15 396.30L589.80 396.30L591.15 394.15ZM597.85 394.15L599.20 396.30L600.85 396.30L600.50 398L602.60 398.95L602.60 399.65L600.50 400.60L600.85 402.30L599.20 402.30L597.85 404.45L597.15 404.45L595.80 402.30L594.15 402.30L594.50 400.60L592.40 399.65L592.40 398.95L594.50 398L594.15 396.30L595.80 396.30L597.15 394.15ZM602.85 394.15L604.20 396.30L605.85 396.30L605.50 398L607.60 398.95L607.60 399.65L605.50 400.60L605.85 402.30L604.20 402.30L602.85 404.45L602.15 404.45L600.80 402.30L599.15 402.30L599.50 400.60L597.40 399.65L597.40 398.95L599.50 398L599.15 396.30L600.80 396.30L602.15 394.15ZM607.85 394.15L609.20 396.30L610.85 396.30L610.50 398L612.60 398.95L612.60 399.65L610.50 400.60L610.85 402.30L609.20 402.30L607.85 404.45L607.15 404.45L605.80 402.30L604.15 402.30L604.50 400.60L602.40 399.65L602.40 398.95L604.50 398L604.15 396.30L605.80 396.30L607.15 394.15ZM613.85 394.15L615.20 396.30L616.85 396.30L616.50 398L618.60 398.95L618.60 399.65L616.50 400.60L616.85 402.30L615.20 402.30L613.85 404.45L613.15 404.45L611.80 402.30L610.15 402.30L610.50 400.60L608.40 399.65L608.40 398.95L610.50 398L610.15 396.30L611.80 396.30L613.15 394.15ZM618.85 394.15L620.20 396.30L621.85 396.30L621.50 398L623.60 398.95L623.60 399.65L621.50 400.60L621.85 402.30L620.20 402.30L618.85 404.45L618.15 404.45L616.80 402.30L615.15 402.30L615.50 400.60L613.40 399.65L613.40 398.95L615.50 398L615.15 396.30L616.80 396.30L618.15 394.15ZM623.85 394.15L625.20 396.30L626.85 396.30L626.50 398L628.60 398.95L628.60 399.65L626.50 400.60L626.85 402.30L625.20 402.30L623.85 404.45L623.15 404.45L621.80 402.30L620.15 402.30L620.50 400.60L618.40 399.65L618.40 398.95L620.50 398L620.15 396.30L621.80 396.30L623.15 394.15ZM629.85 394.15L631.20 396.30L632.85 396.30L632.50 398L634.60 398.95L634.60 399.65L632.50 400.60L632.85 402.30L631.20 402.30L629.85 404.45L629.15 404.45L627.80 402.30L626.15 402.30L626.50 400.60L624.40 399.65L624.40 398.95L626.50 398L626.15 396.30L627.80 396.30L629.15 394.15ZM634.85 394.15L636.20 396.30L637.85 396.30L637.50 398L639.60 398.95L639.60 399.65L637.50 400.60L637.85 402.30L636.20 402.30L634.85 404.45L634.15 404.45L632.80 402.30L631.15 402.30L631.50 400.60L629.40 399.65L629.40 398.95L631.50 398L631.15 396.30L632.80 396.30L634.15 394.15ZM639.85 394.15L641.20 396.30L642.85 396.30L642.50 398L644.60 398.95L644.60 399.65L642.50 400.60L642.85 402.30L641.20 402.30L639.85 404.45L639.15 404.45L637.80 402.30L636.15 402.30L636.50 400.60L634.40 399.65L634.40 398.95L636.50 398L636.15 396.30L637.80 396.30L639.15 394.15ZM645.85 394.15L647.20 396.30L648.85 396.30L648.50 398L650.60 398.95L650.60 399.65L648.50 400.60L648.85 402.30L647.20 402.30L645.85 404.45L645.15 404.45L643.80 402.30L642.15 402.30L642.50 400.60L640.40 399.65L640.40 398.95L642.50 398L642.15 396.30L643.80 396.30L645.15 394.15ZM650.85 394.15L652.20 396.30L653.85 396.30L653.50 398L655.60 398.95L655.60 399.65L653.50 400.60L653.85 402.30L652.20 402.30L650.85 404.45L650.15 404.45L648.80 402.30L647.15 402.30L647.50 400.60L645.40 399.65L645.40 398.95L647.50 398L647.15 396.30L648.80 396.30L650.15 394.15ZM656.85 394.15L658.20 396.30L659.85 396.30L659.50 398L661.60 398.95L661.60 399.65L659.50 400.60L659.85 402.30L658.20 402.30L656.85 404.45L656.15 404.45L654.80 402.30L653.15 402.30L653.50 400.60L651.40 399.65L651.40 398.95L653.50 398L653.15 396.30L654.80 396.30L656.15 394.15Z"/></g>
<text x="145.8" y="458" font-size="8" fill="#111" text-rendering="geometricPrecision" textLength="503.7">data file: /Users/raeder/DAI/ATM_forcXX/CAM6_setup/f.e21.FHIST_BGC.f09_025.CAM6assim.011/Diags_NTrS_2017-02/obs_diag_output.nc</text>
</svg>
</body></html>
